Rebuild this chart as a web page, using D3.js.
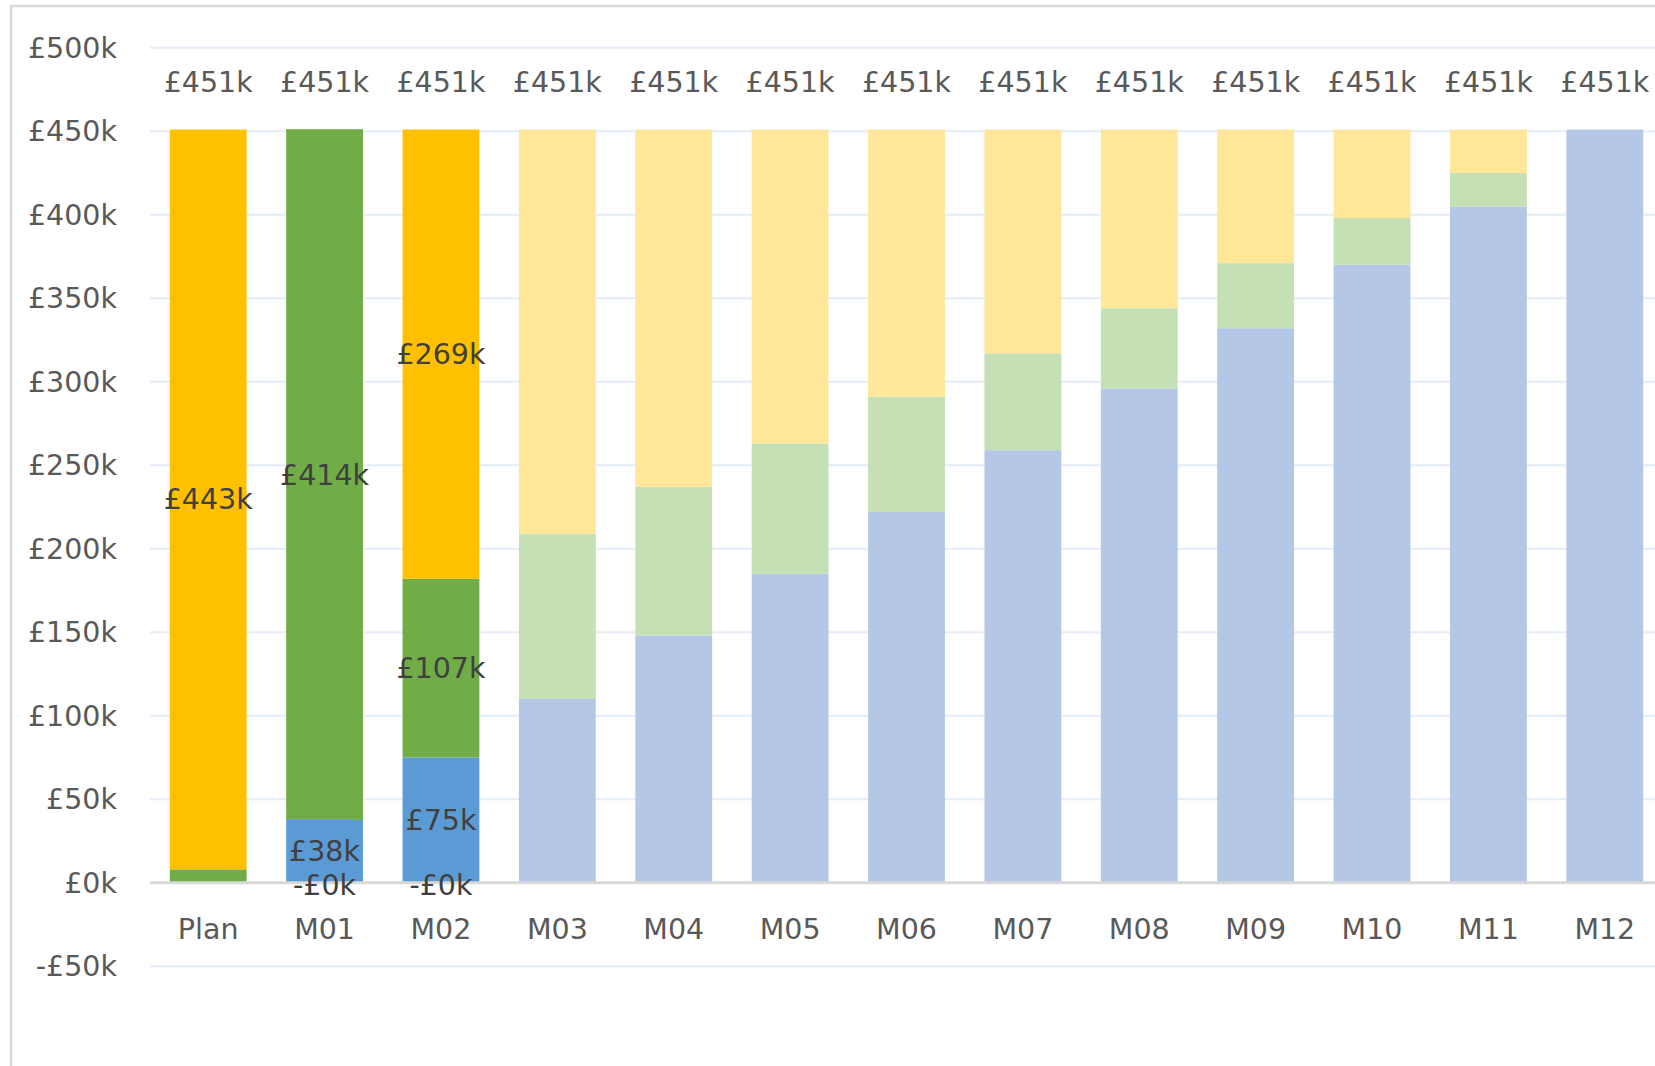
<!DOCTYPE html>
<html>
<head>
<meta charset="utf-8">
<script src="https://cdn.jsdelivr.net/npm/d3@7/dist/d3.min.js"></script>
<style>
  body { margin: 0; background: #fff; }
  text { font-family: "DejaVu Sans", sans-serif; }
</style>
</head>
<body>
<div id="chart"></div>
<script>
const categories = ["Plan","M01","M02","M03","M04","M05","M06","M07","M08","M09","M10","M11","M12"]
// values in £k
const actual      = [0, 37.6, 75, 0, 0, 0, 0, 0, 0, 0, 0, 0, 0]
const committed   = [8, 413.6, 107, 0, 0, 0, 0, 0, 0, 0, 0, 0, 0]
const remaining   = [443, 0, 269, 0, 0, 0, 0, 0, 0, 0, 0, 0, 0]
const fcActual    = [0, 0, 0, 110, 148, 185, 222, 259, 296, 332, 370, 405, 451]
const fcCommitted = [0, 0, 0, 99, 89, 78, 69, 58, 48, 39, 28, 20, 0]
const fcRemaining = [0, 0, 0, 242, 214, 188, 160, 134, 107, 80, 53, 26, 0]
const overspend   = [null, -0, -0, null, null, null, null, null, null, null, null, null, null]
const totals      = [451, 451, 451, 451, 451, 451, 451, 451, 451, 451, 451, 451, 451]
const yTicks = [-50, 0, 50, 100, 150, 200, 250, 300, 350, 400, 450, 500]

const width = 1655, height = 1066
const fontSize = "28.5px"

const seriesKeys = ["actual","committed","remaining","fcActual","fcCommitted","fcRemaining"]
const seriesVals = {actual, committed, remaining, fcActual, fcCommitted, fcRemaining}
const colors = {
  actual: "#5B9BD5", committed: "#70AD47", remaining: "#FFC000",
  fcActual: "#B4C7E7", fcCommitted: "#C5E0B4", fcRemaining: "#FFE699"
}
const labelled = {actual: true, committed: true, remaining: true}

const rows = categories.map((c, i) => {
  const r = {cat: c}
  seriesKeys.forEach(k => r[k] = seriesVals[k][i])
  return r
})

const svg = d3.select("#chart").append("svg")
  .attr("width", width)
  .attr("height", height)

// chart frame
svg.append("rect")
  .attr("x", 11).attr("y", 6)
  .attr("width", width + 20).attr("height", height + 20)
  .attr("fill", "#fff")
  .attr("stroke", "#d9d9d9")
  .attr("stroke-width", 2.5)

const x = d3.scaleBand()
  .domain(categories)
  .range([150, 1663])
  .paddingInner(0.34)
  .paddingOuter(0.17)

const y = d3.scaleLinear()
  .domain([-50, 500])
  .range([966.2, 47.7])

// gridlines
svg.append("g")
  .selectAll("line")
  .data(yTicks.filter(t => t !== 0))
  .join("line")
    .attr("x1", 150).attr("x2", width)
    .attr("y1", d => y(d)).attr("y2", d => y(d))
    .attr("stroke", "#e4edf8")
    .attr("stroke-width", 2)

// y axis labels
svg.append("g")
  .selectAll("text")
  .data(yTicks)
  .join("text")
    .attr("x", 117)
    .attr("y", d => y(d))
    .attr("dy", "0.35em")
    .attr("text-anchor", "end")
    .attr("fill", "#595959")
    .style("font-size", fontSize)
    .text(d => (d < 0 ? "-£" : "£") + Math.abs(d) + "k")

const stacked = d3.stack().keys(seriesKeys)(rows)

const layers = svg.append("g")
  .selectAll("g")
  .data(stacked)
  .join("g")
    .attr("fill", d => colors[d.key])

layers.selectAll("rect")
  .data(d => d)
  .join("rect")
    .attr("x", d => x(d.data.cat))
    .attr("width", x.bandwidth())
    .attr("y", d => y(d[1]))
    .attr("height", d => y(d[0]) - y(d[1]))

// zero axis line
svg.append("line")
  .attr("x1", 150).attr("x2", width)
  .attr("y1", y(0)).attr("y2", y(0))
  .attr("stroke", "#d9d9d9")
  .attr("stroke-width", 3)

// segment labels
const labelData = stacked
  .filter(s => labelled[s.key])
  .flatMap(s => s.filter(d => d[1] - d[0] > 15))

svg.append("g")
  .selectAll("text")
  .data(labelData)
  .join("text")
    .attr("x", d => x(d.data.cat) + x.bandwidth() / 2)
    .attr("y", d => y((d[0] + d[1]) / 2))
    .attr("dy", "0.35em")
    .attr("text-anchor", "middle")
    .attr("fill", "#404040")
    .style("font-size", fontSize)
    .text(d => "£" + Math.round(d[1] - d[0]) + "k")

// overspend labels (zero values)
svg.append("g")
  .selectAll("text")
  .data(categories.map((c, i) => ({cat: c, v: overspend[i]})).filter(d => d.v !== null))
  .join("text")
    .attr("x", d => x(d.cat) + x.bandwidth() / 2)
    .attr("y", d => y(d.v) + 2)
    .attr("dy", "0.35em")
    .attr("text-anchor", "middle")
    .attr("fill", "#404040")
    .style("font-size", fontSize)
    .text(d => "-£" + Math.abs(d.v) + "k")

// total labels
svg.append("g")
  .selectAll("text")
  .data(categories.map((c, i) => ({cat: c, v: totals[i]})))
  .join("text")
    .attr("x", d => x(d.cat) + x.bandwidth() / 2)
    .attr("y", d => y(d.v) - 48)
    .attr("dy", "0.35em")
    .attr("text-anchor", "middle")
    .attr("fill", "#595959")
    .style("font-size", fontSize)
    .text(d => "£" + d.v + "k")

// category labels
svg.append("g")
  .selectAll("text")
  .data(categories)
  .join("text")
    .attr("x", d => x(d) + x.bandwidth() / 2)
    .attr("y", 929)
    .attr("dy", "0.35em")
    .attr("text-anchor", "middle")
    .attr("fill", "#595959")
    .style("font-size", fontSize)
    .text(d => d)
</script>
</body>
</html>
